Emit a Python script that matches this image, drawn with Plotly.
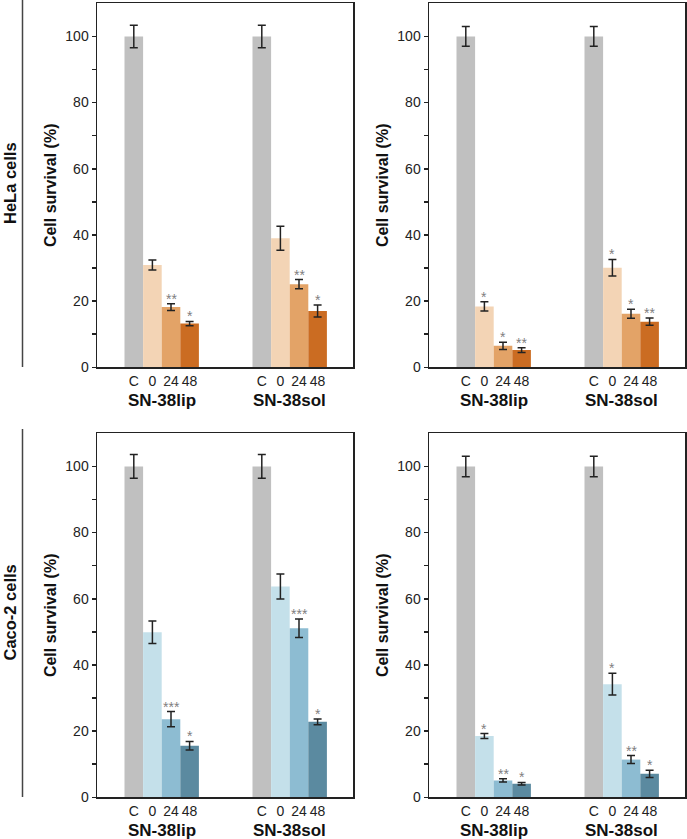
import plotly.graph_objects as go

# ---------------- data ----------------
groups = ["SN-38lip", "SN-38sol"]
conditions = ["C", "0", "24", "48"]
y_ticks = [0, 20, 40, 60, 80, 100]
row_labels = ["HeLa cells", "Caco-2 cells"]
y_title = "Cell survival (%)"

# HeLa, left panel
hela_a_lip = [100, 30.9, 18.2, 13.2]
hela_a_lip_err = [3.4, 1.5, 1.0, 0.65]
hela_a_lip_sig = ["", "", "**", "*"]
hela_a_sol = [100, 39.0, 25.1, 17.0]
hela_a_sol_err = [3.4, 3.6, 1.4, 1.8]
hela_a_sol_sig = ["", "", "**", "*"]
# HeLa, right panel
hela_b_lip = [100, 18.4, 6.5, 5.2]
hela_b_lip_err = [3.0, 1.4, 1.1, 0.7]
hela_b_lip_sig = ["", "*", "*", "**"]
hela_b_sol = [100, 30.1, 16.2, 13.8]
hela_b_sol_err = [3.0, 2.5, 1.35, 1.1]
hela_b_sol_sig = ["", "*", "*", "**"]
# Caco-2, left panel
caco_a_lip = [100, 49.9, 23.6, 15.6]
caco_a_lip_err = [3.6, 3.4, 2.3, 1.3]
caco_a_lip_sig = ["", "", "***", "*"]
caco_a_sol = [100, 63.7, 51.1, 22.8]
caco_a_sol_err = [3.6, 3.8, 2.8, 0.85]
caco_a_sol_sig = ["", "", "***", "*"]
# Caco-2, right panel
caco_b_lip = [100, 18.5, 5.1, 4.1]
caco_b_lip_err = [3.1, 0.75, 0.5, 0.4]
caco_b_lip_sig = ["", "*", "**", "*"]
caco_b_sol = [100, 34.2, 11.4, 7.1]
caco_b_sol_err = [3.1, 3.3, 1.2, 1.1]
caco_b_sol_sig = ["", "*", "**", "*"]

# ---------------- styles ----------------
orange_colors = ["#c0c0c0", "#f3d4b5", "#e3a367", "#cb6c22"]
blue_colors = ["#c0c0c0", "#c4e0ea", "#8dbcd2", "#5b8aa0"]
FONT = "Arial, Liberation Sans, Helvetica, sans-serif"
W, H = 687, 839

panels = [
    ("", (97, 353), (3.3, 367.3), orange_colors,
     [(hela_a_lip, hela_a_lip_err, hela_a_lip_sig), (hela_a_sol, hela_a_sol_err, hela_a_sol_sig)]),
    ("2", (429, 685), (3.3, 367.3), orange_colors,
     [(hela_b_lip, hela_b_lip_err, hela_b_lip_sig), (hela_b_sol, hela_b_sol_err, hela_b_sol_sig)]),
    ("3", (97, 353), (433.3, 797.3), blue_colors,
     [(caco_a_lip, caco_a_lip_err, caco_a_lip_sig), (caco_a_sol, caco_a_sol_err, caco_a_sol_sig)]),
    ("4", (429, 685), (433.3, 797.3), blue_colors,
     [(caco_b_lip, caco_b_lip_err, caco_b_lip_sig), (caco_b_sol, caco_b_sol_err, caco_b_sol_sig)]),
]

BAR_PX = 18.6
group_start_px = [27.5, 155.5]

fig = go.Figure()
annotations = []
shapes = []
layout = dict(
    template="none",
    width=W, height=H, margin=dict(l=0, r=0, t=0, b=0, pad=0),
    paper_bgcolor="white", plot_bgcolor="white", showlegend=False,
    font=dict(family=FONT, color="#222"),
)

for suffix, (x0, x1), (ytop, ybot), colors, gdata in panels:
    xa = "x" + suffix
    ya = "y" + suffix
    tickvals, ticktext = [], []
    for gi, (vals, errs, sigs) in enumerate(gdata):
        start = group_start_px[gi] / BAR_PX
        xs = [start + i + 0.5 for i in range(len(conditions))]
        tickvals += xs
        ticktext += conditions
        fig.add_trace(go.Bar(
            x=xs, y=vals, width=1.0, marker=dict(color=colors, line=dict(width=0)),
            error_y=dict(type="data", array=errs, visible=True, color="#222",
                         thickness=1.5, width=4),
            xaxis=xa, yaxis=ya, hoverinfo="skip",
        ))
        for xv, v, e, s in zip(xs, vals, errs, sigs):
            if s:
                annotations.append(dict(
                    x=xv, y=v + e, xref=xa, yref=ya, text=s, showarrow=False,
                    yanchor="bottom", yshift=-5,
                    font=dict(size=14, color="#808080", family=FONT),
                ))
        annotations.append(dict(
            x=start + 2, y=-33 / (ybot - ytop), xref=xa, yref=ya + " domain",
            text="<b>" + groups[gi] + "</b>", showarrow=False,
            font=dict(size=17, color="#111", family=FONT), yanchor="middle",
        ))
    xrange_units = (x1 - x0) / BAR_PX
    axis_line = dict(showline=True, linecolor="#222", linewidth=1.5, mirror=True,
                     showgrid=False, zeroline=False, automargin=False)
    layout["xaxis" + suffix] = dict(
        domain=[x0 / W, x1 / W], range=[0, xrange_units], anchor=ya,
        tickmode="array", tickvals=tickvals, ticktext=ticktext, ticks="",
        tickfont=dict(size=14, color="#222", family=FONT), **axis_line,
    )
    layout["yaxis" + suffix] = dict(
        domain=[1 - ybot / H, 1 - ytop / H], range=[0, 110], anchor=xa,
        tickmode="array", tickvals=y_ticks, ticks="outside", ticklen=4, tickwidth=1.5,
        tickcolor="#222",
        minor=dict(tickmode="array", tickvals=[10, 30, 50, 70, 90], ticks="outside",
                   ticklen=4, tickwidth=1.5, tickcolor="#222"),
        tickfont=dict(size=14, color="#222", family=FONT),
        title=dict(text="<b>" + y_title + "</b>", font=dict(size=16, color="#111", family=FONT),
                   standoff=4),
        **axis_line,
    )

# Row labels and separator lines
for label, (ytop, ybot) in zip(row_labels, [(0, 367), (429, 797)]):
    annotations.append(dict(
        x=9.5 / W, y=1 - (ytop + ybot) / 2 / H, xref="paper", yref="paper",
        text="<b>" + label + "</b>", showarrow=False, textangle=-90,
        font=dict(size=16.5, color="#111", family=FONT),
        xanchor="center", yanchor="middle",
    ))
    shapes.append(dict(type="line", xref="paper", yref="paper",
                       x0=22.5 / W, x1=22.5 / W, y0=1 - ytop / H, y1=1 - ybot / H,
                       line=dict(color="#444", width=1.5)))

layout["annotations"] = annotations
layout["shapes"] = shapes
fig.update_layout(**layout)
fig.write_html(
    "out.html",
    config={"displayModeBar": False, "staticPlot": True},
    post_script="document.body.style.margin='0';document.body.style.padding='0';"
                "document.body.style.overflow='hidden';",
)
